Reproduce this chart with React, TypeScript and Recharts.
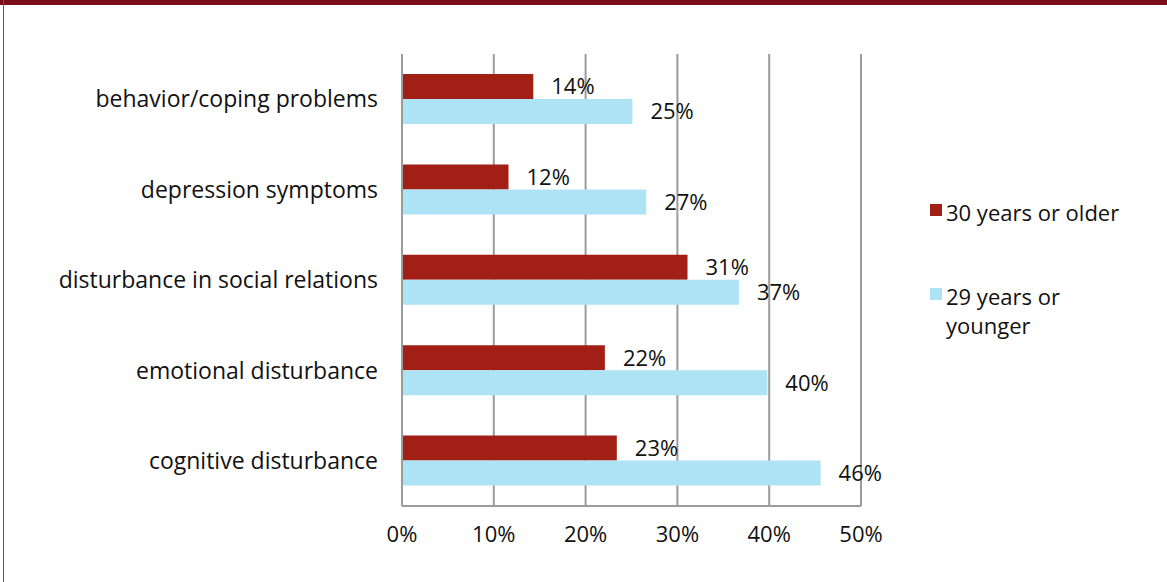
import { BarChart, Bar, XAxis, YAxis, CartesianGrid, LabelList } from 'recharts';

const categories = [
  'behavior/coping problems',
  'depression symptoms',
  'disturbance in social relations',
  'emotional disturbance',
  'cognitive disturbance',
];
// values; labels show them rounded
const olderValues = [14.3, 11.6, 31.1, 22.1, 23.4];
const youngerValues = [25.1, 26.6, 36.7, 39.8, 45.6];
const xTicks = [0, 10, 20, 30, 40, 50];

const OLDER = '#a21f16';
const YOUNGER = '#ade3f4';
const GRID = '#9b9b9b';
const FONT = '"Open Sans", "Noto Sans", sans-serif';
const TEXT = { fill: '#111', fontSize: 22, fontFamily: FONT };
const CAT_TEXT = { ...TEXT, fontSize: 23 };

const data = categories.map((name, i) => ({
  name,
  older: olderValues[i],
  younger: youngerValues[i],
}));

const pct = (v: number) => `${Math.round(v)}%`;

// legend sits to the right of the plot, drawn outside the chart so it takes no space
function LegendBox() {
  return (
    <div
      style={{
        position: 'absolute',
        left: 930,
        top: 198,
        fontFamily: FONT,
        fontSize: 22,
        color: '#111',
        lineHeight: '29px',
      }}
    >
      <div style={{ display: 'flex', alignItems: 'flex-start' }}>
        <span style={{ width: 12, height: 12, background: OLDER, marginTop: 6, marginRight: 4 }} />
        <span>30 years or older</span>
      </div>
      <div style={{ display: 'flex', alignItems: 'flex-start', marginTop: 55 }}>
        <span style={{ width: 12, height: 12, background: YOUNGER, marginTop: 6, marginRight: 4 }} />
        <span>
          29 years or
          <br />
          younger
        </span>
      </div>
    </div>
  );
}

export default function App() {
  return (
    <div
      style={{
        position: 'absolute',
        left: 0,
        top: 0,
        width: 1167,
        height: 582,
        background: '#fff',
        overflow: 'hidden',
      }}
    >
      <div style={{ position: 'absolute', left: 0, top: 0, width: 1167, height: 5, background: '#7a0d19' }} />
      <div style={{ position: 'absolute', left: 3, top: 0, width: 1, height: 582, background: '#8c4a50' }} />

      <BarChart
        width={1167}
        height={582}
        data={data}
        layout="vertical"
        margin={{ top: 54, right: 306, bottom: 0, left: 0 }}
        barGap={0}
        barSize={25}
      >
        <CartesianGrid horizontal={false} vertical stroke={GRID} strokeWidth={2} />
        <XAxis
          type="number"
          domain={[0, 50]}
          ticks={xTicks}
          tickFormatter={(v) => `${v}%`}
          height={76}
          axisLine={{ stroke: GRID, strokeWidth: 2 }}
          tickLine={false}
          tickSize={0}
          tickMargin={20}
          tick={TEXT}
        />
        <YAxis
          type="category"
          dataKey="name"
          width={402}
          axisLine={{ stroke: GRID, strokeWidth: 2 }}
          tickLine={false}
          tickSize={0}
          tickMargin={24}
          tick={CAT_TEXT}
        />
        <Bar dataKey="older" fill={OLDER} isAnimationActive={false}>
          <LabelList dataKey="older" position="right" offset={18} formatter={pct} style={TEXT} />
        </Bar>
        <Bar dataKey="younger" fill={YOUNGER} isAnimationActive={false}>
          <LabelList dataKey="younger" position="right" offset={18} formatter={pct} style={TEXT} />
        </Bar>
      </BarChart>
      <LegendBox />
    </div>
  );
}
